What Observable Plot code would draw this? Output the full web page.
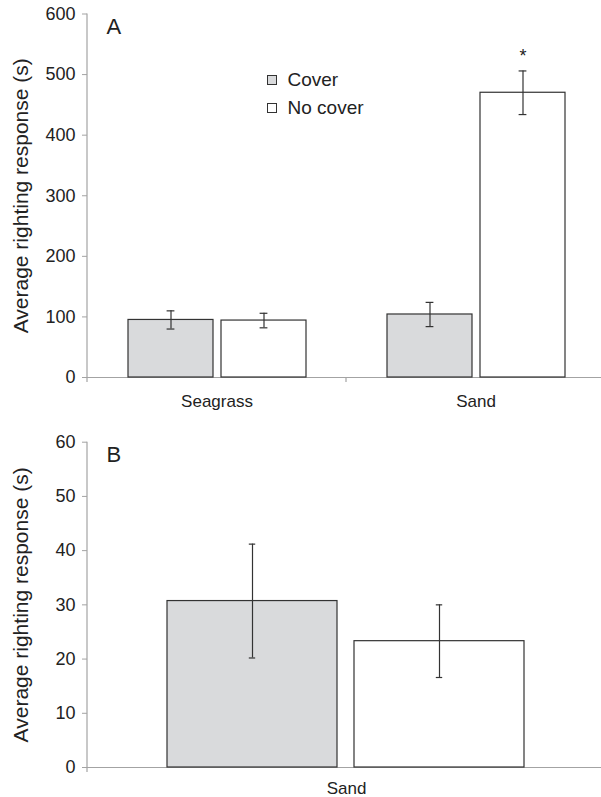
<!DOCTYPE html>
<html>
<head>
<meta charset="utf-8">
<script src="https://cdn.jsdelivr.net/npm/d3@7"></script>
<script src="https://cdn.jsdelivr.net/npm/@observablehq/plot@0.6"></script>
<style>
  html, body { margin: 0; padding: 0; overflow: hidden; background: #fff; }
  #wrap { position: relative; width: 601px; height: 797px; font-family: "Liberation Sans", Arial, sans-serif; color: #222; }
  #wrap svg { display: block; max-width: none !important; }
  .legend { position: absolute; left: 266.5px; top: 66px; font-size: 19px; line-height: 28px; }
  .legend .row { display: flex; align-items: center; }
  .legend .sw { width: 8px; height: 8px; border: 1.2px solid #333; margin-right: 11px; }
</style>
</head>
<body>
<div id="wrap">
  <div id="panelA"></div>
  <div id="panelB"></div>
  <div class="legend" id="legend"></div>
</div>
<script>
// ---- data ----
const sitesA = ["Seagrass", "Sand"];
const sitesB = ["Sand"];
const treatments = ["Cover", "No cover"];
const treatmentFill = ["#d9dadc", "#ffffff"];
// order: Seagrass Cover, Seagrass No cover, Sand Cover, Sand No cover
const meanA = [95, 94, 104, 470];
const seA = [15, 12, 20, 36];
// panel B: Sand Cover, Sand No cover
const meanB = [30.7, 23.3];
const seB = [10.5, 6.7];
const yTicksA = [0, 100, 200, 300, 400, 500, 600];
const yTicksB = [0, 10, 20, 30, 40, 50, 60];
const yLabel = "Average righting response (s)";
const significant = [{site: "Sand", treatment: "No cover", mark: "*"}];

const tableA = sitesA.flatMap((s, i) => treatments.map((t, j) => ({site: s, treatment: t, mean: meanA[i * 2 + j], se: seA[i * 2 + j]})));
const tableB = sitesB.flatMap((s, i) => treatments.map((t, j) => ({site: s, treatment: t, mean: meanB[i * 2 + j], se: seB[i * 2 + j]})));
const starData = significant.map(d => {
  const r = tableA.find(e => e.site === d.site && e.treatment === d.treatment);
  return {...d, top: r.mean + r.se};
});

const FONT = "Liberation Sans, Arial, sans-serif";
const AXIS_GRAY = "#a3a3a3";
const INK = "#333";

function panel({table, sites, yDomain, yTicks, letter, height, marginTop, marginBottom, fxPad, capInset, extra}) {
  const plot = Plot.plot({
    width: 605,
    height,
    marginLeft: 87,
    marginRight: 0,
    marginTop,
    marginBottom,
    style: {fontFamily: FONT, fontSize: "18px", color: "#222", background: "transparent", overflow: "visible", maxWidth: "none"},
    fx: {domain: sites, padding: 0},
    x: {domain: treatments, paddingInner: 0.089, paddingOuter: 0.4275, axis: null},
    y: {domain: yDomain},
    color: {domain: treatments, range: treatmentFill},
    marks: [
      Plot.axisY({ticks: yTicks, tickSize: 5, tickPadding: 7, stroke: AXIS_GRAY, fill: "#222", fontSize: 18, label: null}),
      Plot.axisFx({anchor: "bottom", tickSize: 0, tickPadding: fxPad, fontSize: 17, fill: "#222", label: null}),
      Plot.ruleY([0], {stroke: AXIS_GRAY, strokeWidth: 1.2}),
      Plot.barY(table, {fx: "site", x: "treatment", y: "mean", fill: "treatment", stroke: INK, strokeWidth: 1.2}),
      Plot.ruleX(table, {fx: "site", x: "treatment", y1: d => d.mean - d.se, y2: d => d.mean + d.se, stroke: INK, strokeWidth: 1.2}),
      Plot.tickY(table, {fx: "site", x: "treatment", y: d => d.mean - d.se, stroke: INK, strokeWidth: 1.2, insetLeft: capInset, insetRight: capInset}),
      Plot.tickY(table, {fx: "site", x: "treatment", y: d => d.mean + d.se, stroke: INK, strokeWidth: 1.2, insetLeft: capInset, insetRight: capInset}),
      Plot.text([{site: sites[0], letter}], {fx: "site", text: "letter", frameAnchor: "top-left", textAnchor: "start", lineAnchor: "top", dx: 19, dy: 4, fontSize: 22, fill: "#222"}),
      Plot.text([{site: sites[0], label: yLabel}], {fx: "site", text: "label", frameAnchor: "left", rotate: -90, textAnchor: "middle", lineAnchor: "middle", dx: -66, dy: 0, fontSize: 21, fill: "#222"}),
      ...(extra || [])
    ]
  });
  // axis line on the left and boundary ticks along the category axis, from the plot's own scales
  const ys = plot.scale("y");
  const fxs = plot.scale("fx");
  const x0 = fxs.range[0];
  const bounds = fxs.domain.map((d, i) => x0 + i * fxs.step).concat([x0 + fxs.domain.length * fxs.step]);
  const svg = d3.select(plot);
  const g = svg.append("g").attr("stroke", AXIS_GRAY).attr("stroke-width", 1.2);
  g.append("line").attr("x1", x0).attr("x2", x0).attr("y1", ys.range[0]).attr("y2", ys.range[1]);
  g.selectAll("line.bt").data(bounds).join("line").attr("class", "bt")
    .attr("x1", d => d).attr("x2", d => d).attr("y1", ys.range[0]).attr("y2", ys.range[0] + 5);
  return plot;
}

const plotA = panel({
  table: tableA, sites: sitesA, yDomain: [0, 600], yTicks: yTicksA, letter: "A",
  height: 415, marginTop: 13.5, marginBottom: 38, fxPad: 17, capInset: 38.6,
  extra: [Plot.text(starData, {fx: "site", x: "treatment", y: "top", text: "mark", lineAnchor: "bottom", dy: -8.5, fontSize: 18, fill: "#222"})]
});
const plotB = panel({
  table: tableB, sites: sitesB, yDomain: [0, 60], yTicks: yTicksB, letter: "B",
  height: 382, marginTop: 26.7, marginBottom: 30, fxPad: 14, capInset: 81.8
});
document.getElementById("panelA").appendChild(plotA);
document.getElementById("panelB").appendChild(plotB);

// legend
const legend = d3.select("#legend");
treatments.forEach((t, i) => {
  const row = legend.append("div").attr("class", "row");
  row.append("div").attr("class", "sw").style("background", treatmentFill[i]);
  row.append("span").text(t);
});
</script>
</body>
</html>
